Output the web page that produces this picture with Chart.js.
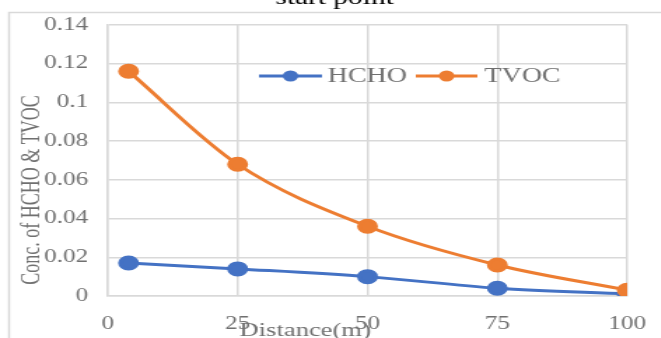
<!DOCTYPE html>
<html>
<head>
<meta charset="utf-8">
<script src="https://cdn.jsdelivr.net/npm/chart.js@4.4.1/dist/chart.umd.min.js"></script>
<style>
  html, body { margin: 0; padding: 0; background: #fff; overflow: hidden; }
  /* the reference picture is stretched sideways, so draw narrow and widen */
  #wrap { position: absolute; left: 0; top: 0; width: 472px; height: 338px;
          transform: scaleX(1.4); transform-origin: 0 0; }
</style>
</head>
<body>
<div id="wrap"><canvas id="chart"></canvas></div>
<script>
// distance from start point (m)
const distances = [4, 25, 50, 75, 100];
const hcho = [0.017, 0.014, 0.010, 0.004, 0.001];
const tvoc = [0.116, 0.068, 0.036, 0.016, 0.003];
const seriesNames = ["HCHO", "TVOC"];
const seriesColors = ["#4472C4", "#ED7D31"];
const xTickLabels = ["0", "25", "50", "75", "100"];
const yTickLabels = ["0", "0.02", "0.04", "0.06", "0.08", "0.1", "0.12", "0.14"];

const serif = "'Liberation Serif', 'DejaVu Serif', serif";
const gray = "#707070";
const gridColor = "#d9d9d9";

function toPoints(values) {
  return values.map((v, i) => ({ x: distances[i], y: v }));
}

// outer frame, cut-off title, axis titles and legend
const decor = {
  id: "decor",
  beforeDraw(chart) {
    const c = chart.ctx;
    c.save();
    c.fillStyle = "#fff";
    c.fillRect(0, 0, chart.width, chart.height);
    c.strokeStyle = gridColor;
    c.lineWidth = 1.5;
    c.strokeRect(6.5, 12.5, 600, 400);
    c.fillStyle = "#000";
    c.font = "21px " + serif;
    c.textAlign = "center";
    c.textBaseline = "alphabetic";
    c.fillText("start point", 239, 4);
    c.restore();
  },
  afterDraw(chart) {
    const c = chart.ctx;
    c.save();
    c.fillStyle = gray;
    c.font = "19px " + serif;
    c.textAlign = "center";
    c.textBaseline = "middle";
    c.fillText("Distance(m)", 218, 331);

    c.translate(23, 190);
    c.rotate(-Math.PI / 2);
    c.font = "18px " + serif;
    c.fillText("Conc. of HCHO & TVOC", 0, 0);
    c.restore();

    // legend
    const items = [
      { x0: 185, x1: 230, tx: 234 },
      { x0: 297, x1: 341, tx: 346 }
    ];
    const y = 76;
    c.save();
    items.forEach((it, i) => {
      c.strokeStyle = seriesColors[i];
      c.lineWidth = 3;
      c.beginPath();
      c.moveTo(it.x0, y);
      c.lineTo(it.x1, y);
      c.stroke();
      c.fillStyle = seriesColors[i];
      c.beginPath();
      c.arc((it.x0 + it.x1) / 2, y, 5.5, 0, Math.PI * 2);
      c.fill();
      c.fillStyle = gray;
      c.font = "20px " + serif;
      c.textAlign = "left";
      c.textBaseline = "middle";
      c.fillText(seriesNames[i], it.tx, y + 1);
    });
    c.restore();
  }
};

const ctx = document.getElementById("chart").getContext("2d");
const chart = new Chart(ctx, {
  type: "line",
  data: {
    datasets: [
      {
        label: seriesNames[0],
        data: toPoints(hcho),
        borderColor: seriesColors[0],
        backgroundColor: seriesColors[0],
        borderWidth: 3,
        pointRadius: 6,
        cubicInterpolationMode: "monotone",
        order: 1
      },
      {
        label: seriesNames[1],
        data: toPoints(tvoc),
        borderColor: seriesColors[1],
        backgroundColor: seriesColors[1],
        borderWidth: 3,
        pointRadius: 6,
        cubicInterpolationMode: "monotone",
        order: 0
      }
    ]
  },
  options: {
    responsive: true,
    maintainAspectRatio: false,
    animation: false,
    layout: { padding: { top: 23, right: 24, left: 0, bottom: 0 } },
    plugins: {
      legend: { display: false },
      tooltip: { enabled: false }
    },
    scales: {
      x: {
        type: "linear",
        min: 0,
        max: 100,
        afterFit(scale) {
          scale.height = 42;
          scale.paddingLeft = 0;
          scale.paddingRight = 0;
        },
        ticks: {
          stepSize: 25,
          padding: 17,
          color: gray,
          font: { family: serif, size: 18 },
          callback: (v) => xTickLabels[Math.round(v / 25)]
        },
        grid: { color: gridColor, lineWidth: 1.5, drawTicks: false },
        border: { color: gridColor, width: 1.5 }
      },
      y: {
        min: 0,
        max: 0.14,
        afterFit(scale) { scale.width = 77; },
        ticks: {
          stepSize: 0.02,
          padding: 14,
          color: gray,
          font: { family: serif, size: 18 },
          callback: (v) => yTickLabels[Math.round(v / 0.02)]
        },
        grid: { color: gridColor, lineWidth: 1.5, drawTicks: false },
        border: { color: gridColor, width: 1.5 }
      }
    }
  },
  plugins: [decor]
});
</script>
</body>
</html>
